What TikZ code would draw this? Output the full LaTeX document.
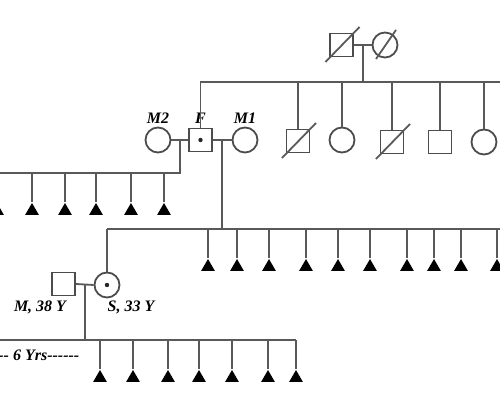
\documentclass[tikz,border=0pt]{standalone}
\usepackage{fontspec}
\setmainfont{Liberation Serif}
\usetikzlibrary{shapes.geometric,calc}

\begin{document}
\begin{tikzpicture}[x=0.5pt,y=-0.5pt,
  male/.style={draw=black!70,line width=0.9pt,rectangle,minimum size=11.5pt,inner sep=0pt},
  female/.style={draw=black!70,line width=0.9pt,circle,minimum size=12.5pt,inner sep=0pt},
  child/.style={fill=black,regular polygon,regular polygon sides=3,minimum size=8pt,inner sep=0pt},
  lbl/.style={font=\fontsize{8}{9}\selectfont\bfseries\itshape,inner sep=0pt},
  link/.style={draw=black!65,line width=0.9pt}]
\useasboundingbox (0,0) rectangle (500,400);
% grandparents
\node[male] (gf) at (341.5,45) {};
\node[female] (gm) at (385,45) {};
\draw[link] ($(gf)+(-16,17)$) -- ($(gf)+(18,-18)$);
\draw[link] ($(gm)+(-9,14)$) -- ($(gm)+(11,-15)$);
\draw[link] (gf.east) -- (gm.west);
\coordinate (gp) at ($(gf.east)!0.5!(gm.west)$);
\coordinate (sib) at (0,82);
\coordinate (sibR) at (505,82);
% father and his wives
\node[male] (F) at (200.5,140) {};
\fill[black!85] (F) circle (2.2);
\node[female] (M2) at (158,140) {};
\node[female] (M1) at (245,140) {};
\node[lbl] at (158,118) {M2};
\node[lbl] at (200.5,118) {F};
\node[lbl] at (245,118) {M1};
% siblings of F
\node[male] (s1) at (298,141) {};
\node[female] (s2) at (342,140) {};
\node[male] (s3) at (392,142) {};
\node[male] (s4) at (440,142) {};
\node[female] (s5) at (484,142) {};
\draw[link] ($(s1)+(-16,17)$) -- ($(s1)+(18,-18)$);
\draw[link] ($(s3)+(-16,17)$) -- ($(s3)+(18,-18)$);
\draw[link] (gp) -- (gp |- sib);
\draw[link] (F.north |- sib) -- (sibR);
\draw[link] (F.north) -- (F.north |- sib);
\foreach \s in {s1,s2,s3,s4,s5}
  \draw[link] (\s.north) -- (\s.north |- sib);
% children of F and M2
\draw[link] (M2.east) -- (F.west);
\coordinate (m2f) at ($(M2.east)!0.5!(F.west)$);
\coordinate (row1) at (0,173);
\foreach \x [count=\i] in {-3,32,65,96,131,164}
  \node[child] (a\i) at (\x,211) {};
\draw[link] (m2f) -- (m2f |- row1) -- (a1.north |- row1);
\foreach \i in {1,...,6}
  \draw[link] (a\i.north |- row1) -- (a\i.north);
% children of F and M1
\draw[link] (F.east) -- (M1.west);
\coordinate (fm1) at ($(F.east)!0.5!(M1.west)$);
\coordinate (row2) at (0,229);
\coordinate (row2R) at (505,229);
\node[female] (S) at (107,285) {};
\fill[black!85] (S) circle (2.2);
\foreach \x [count=\i] in {208,237,269,306,338,370,407,434,461,497}
  \node[child] (b\i) at (\x,267) {};
\draw[link] (fm1) -- (fm1 |- row2);
\draw[link] (S.north |- row2) -- (row2R);
\draw[link] (S.north) -- (S.north |- row2);
\foreach \i in {1,...,10}
  \draw[link] (b\i.north |- row2) -- (b\i.north);
% S and her husband
\node[male] (M) at (63.5,284) {};
\node[lbl] at (40,307) {M, 38 Y};
\node[lbl] at (131,307) {S, 33 Y};
\draw[link] (M.east) -- (S.west);
\coordinate (ms) at ($(M.east)!0.5!(S.west)$);
\coordinate (row3) at (0,340);
\coordinate (row3L) at (-5,340);
\foreach \x [count=\i] in {100,133,168,199,232,268,296}
  \node[child] (c\i) at (\x,378) {};
\draw[link] (ms) -- (ms |- row3);
\draw[link] (row3L) -- (c7.north |- row3);
\foreach \i in {1,...,7}
  \draw[link] (c\i.north |- row3) -- (c\i.north);
\node[lbl,anchor=west] at (-2,355) {-{}- 6 Yrs-{}-{}-{}-{}-{}-};
\end{tikzpicture}
\end{document}
